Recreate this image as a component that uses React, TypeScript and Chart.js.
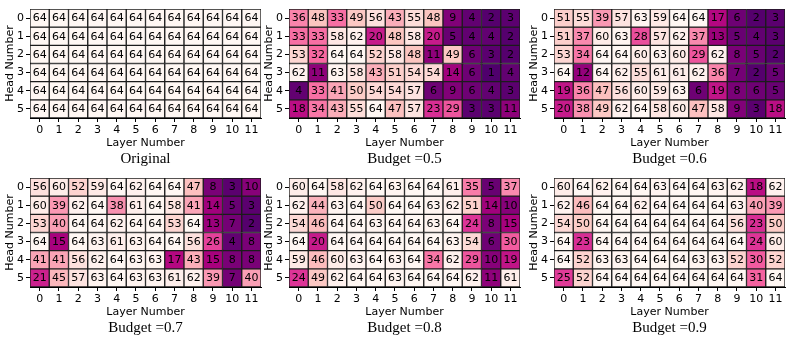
import React, { useEffect, useRef } from 'react';
import { Chart, registerables } from 'chart.js';
Chart.register(...registerables);

const layers = ['0', '1', '2', '3', '4', '5', '6', '7', '8', '9', '10', '11'];
const heads = [0, 1, 2, 3, 4, 5];
const headTickLabels = ['0', '1', '2', '3', '4', '5'];

const original = [
  [64, 64, 64, 64, 64, 64, 64, 64, 64, 64, 64, 64],
  [64, 64, 64, 64, 64, 64, 64, 64, 64, 64, 64, 64],
  [64, 64, 64, 64, 64, 64, 64, 64, 64, 64, 64, 64],
  [64, 64, 64, 64, 64, 64, 64, 64, 64, 64, 64, 64],
  [64, 64, 64, 64, 64, 64, 64, 64, 64, 64, 64, 64],
  [64, 64, 64, 64, 64, 64, 64, 64, 64, 64, 64, 64],
];
const budget05 = [
  [36, 48, 33, 49, 56, 43, 55, 48, 9, 4, 2, 3],
  [33, 33, 58, 62, 20, 48, 58, 20, 5, 4, 4, 2],
  [53, 32, 64, 64, 52, 58, 48, 11, 49, 6, 3, 2],
  [62, 11, 63, 58, 43, 51, 54, 54, 14, 6, 1, 4],
  [4, 33, 41, 50, 54, 54, 57, 6, 9, 6, 4, 3],
  [18, 34, 43, 55, 64, 47, 57, 23, 29, 3, 3, 11],
];
const budget06 = [
  [51, 55, 39, 57, 63, 59, 64, 64, 17, 6, 2, 3],
  [51, 37, 60, 63, 28, 57, 62, 37, 13, 5, 4, 3],
  [53, 34, 64, 64, 60, 63, 60, 29, 62, 8, 5, 2],
  [64, 12, 64, 62, 55, 61, 61, 62, 36, 7, 2, 5],
  [19, 36, 47, 56, 60, 59, 63, 6, 19, 8, 6, 5],
  [20, 38, 49, 62, 64, 58, 60, 47, 58, 9, 3, 18],
];
const budget07 = [
  [56, 60, 52, 59, 64, 62, 64, 64, 47, 8, 3, 10],
  [60, 39, 62, 64, 38, 61, 64, 58, 41, 14, 5, 3],
  [53, 40, 64, 64, 62, 64, 64, 53, 64, 13, 7, 2],
  [64, 15, 64, 63, 61, 63, 64, 64, 56, 26, 4, 8],
  [41, 41, 56, 62, 64, 63, 63, 17, 43, 15, 8, 8],
  [21, 45, 57, 63, 64, 63, 63, 61, 62, 39, 7, 40],
];
const budget08 = [
  [60, 64, 58, 62, 64, 63, 64, 64, 61, 35, 5, 37],
  [62, 44, 63, 64, 50, 64, 64, 63, 62, 51, 14, 10],
  [54, 46, 64, 64, 63, 64, 64, 63, 64, 24, 8, 15],
  [64, 20, 64, 64, 64, 64, 64, 64, 63, 54, 6, 30],
  [59, 46, 60, 63, 64, 63, 64, 34, 62, 29, 10, 19],
  [24, 49, 62, 64, 64, 63, 64, 64, 64, 62, 11, 61],
];
const budget09 = [
  [60, 64, 62, 64, 64, 63, 64, 64, 63, 62, 18, 62],
  [62, 46, 64, 64, 62, 64, 64, 64, 64, 63, 40, 39],
  [54, 50, 64, 64, 64, 64, 64, 64, 64, 56, 23, 50],
  [64, 23, 64, 64, 64, 64, 64, 64, 64, 64, 24, 60],
  [64, 52, 63, 63, 64, 64, 64, 63, 63, 52, 30, 52],
  [25, 52, 64, 64, 64, 64, 64, 64, 64, 64, 31, 64],
];
const panelTitles = ['Original', 'Budget =0.5', 'Budget =0.6', 'Budget =0.7', 'Budget =0.8', 'Budget =0.9'];
const panelMatrices = [original, budget05, budget06, budget07, budget08, budget09];
const VMAX = 64;

const RDPU = ['#fff7f3', '#fde0dd', '#fcc5c0', '#fa9fb5', '#f768a1', '#dd3497', '#ae017e', '#7a0177', '#49006a'];
function hexToRgb(h: string) {
  return [parseInt(h.slice(1, 3), 16), parseInt(h.slice(3, 5), 16), parseInt(h.slice(5, 7), 16)];
}
function cmap(v: number) {
  const t = Math.min(1, Math.max(0, 1 - v / VMAX));
  const s = t * 8;
  const i = Math.min(7, Math.floor(s));
  const f = s - i;
  const a = hexToRgb(RDPU[i]);
  const b = hexToRgb(RDPU[i + 1]);
  const c = a.map((x, k) => Math.round(x + (b[k] - x) * f));
  return `rgb(${c[0]},${c[1]},${c[2]})`;
}

const cellText = {
  id: 'cellText',
  afterDatasetsDraw(chart: any, _args: any, opts: any) {
    const { ctx } = chart;
    const mat: number[][] = opts.matrix;
    ctx.save();
    ctx.font = '11px "DejaVu Sans"';
    ctx.fillStyle = '#000';
    ctx.textAlign = 'center';
    ctx.textBaseline = 'middle';
    chart.data.datasets.forEach((_ds: any, r: number) => {
      const meta = chart.getDatasetMeta(r);
      const y = chart.scales.y.getPixelForValue(heads[r] + 0.5);
      meta.data.forEach((el: any, i: number) => {
        ctx.fillText(String(mat[r][i]), el.x, y + 0.5);
      });
    });
    ctx.restore();
  },
};

const panelTitle = {
  id: 'panelTitle',
  afterDraw(chart: any, _args: any, opts: any) {
    const { ctx, chartArea } = chart;
    ctx.save();
    ctx.font = '15px "Liberation Serif"';
    ctx.fillStyle = '#000';
    ctx.textAlign = 'center';
    ctx.textBaseline = 'middle';
    ctx.fillText(opts.text, (chartArea.left + chartArea.right) / 2, chartArea.bottom + 41);
    ctx.restore();
  },
};

const GRID_W = 231;
const YAXIS_W = 28;
const PAD_R = 3;
const CANVAS_W = YAXIS_W + GRID_W + PAD_R;
const CANVAS_H = 170;
const gridLefts = [30, 289, 554];
const rowTops = [0, 169];

function Panel({ idx }: { idx: number }) {
  const ref = useRef<HTMLCanvasElement>(null);
  useEffect(() => {
    const mat = panelMatrices[idx];
    const tickFont = { family: 'DejaVu Sans', size: 11 };
    const axisGrid = {
      display: true,
      drawOnChartArea: false,
      drawTicks: true,
      tickLength: 4,
      tickColor: '#000',
      offset: false,
    };
    const chart = new Chart(ref.current!, {
      type: 'bar',
      data: {
        labels: layers,
        datasets: mat.map((row, r) => ({
          data: row.map(() => [heads[r], heads[r] + 1]),
          backgroundColor: row.map(cmap),
          borderColor: '#1c1c1c',
          borderWidth: 1,
          borderSkipped: false,
          grouped: false,
          barPercentage: 1,
          categoryPercentage: 1,
        })) as any,
      },
      options: {
        responsive: false,
        animation: false,
        devicePixelRatio: 1,
        layout: { padding: { top: 9, right: PAD_R, bottom: 20, left: 0 } },
        plugins: {
          legend: { display: false },
          tooltip: { enabled: false },
          title: { display: false },
          cellText: { matrix: mat },
          panelTitle: { text: panelTitles[idx] },
        } as any,
        scales: {
          x: {
            type: 'category',
            offset: true,
            grid: axisGrid,
            border: { display: true, color: '#000' },
            ticks: { color: '#000', font: tickFont, padding: 2, maxRotation: 0, autoSkip: false },
            title: { display: true, text: 'Layer Number', color: '#000', font: tickFont, padding: 0 },
            afterFit: (s: any) => { s.height = 32; },
          },
          y: {
            type: 'linear',
            min: 0,
            max: 6,
            reverse: true,
            afterBuildTicks: (s: any) => { s.ticks = heads.map((h) => ({ value: h + 0.5 })); },
            grid: axisGrid,
            border: { display: true, color: '#000' },
            ticks: {
              color: '#000',
              font: tickFont,
              padding: 2,
              callback: (v: any) => headTickLabels[Math.round(Number(v) - 0.5)],
            },
            title: { display: true, text: 'Head Number', color: '#000', font: tickFont, padding: { top: 2, bottom: 0 } },
            afterFit: (s: any) => { s.width = YAXIS_W; },
          },
        } as any,
      },
      plugins: [cellText, panelTitle],
    });
    return () => chart.destroy();
  }, [idx]);
  const col = idx % 3;
  const row = Math.floor(idx / 3);
  return (
    <div style={{ position: 'absolute', left: gridLefts[col] - YAXIS_W, top: rowTops[row], width: CANVAS_W, height: CANVAS_H }}>
      <canvas ref={ref} width={CANVAS_W} height={CANVAS_H} style={{ width: CANVAS_W, height: CANVAS_H, display: 'block' }} />
    </div>
  );
}

export default function App() {
  useEffect(() => {
    document.body.style.margin = '0';
  }, []);
  return (
    <div style={{ position: 'relative', width: 791, height: 349, background: '#fff', overflow: 'hidden' }}>
      {panelTitles.map((_t, i) => (
        <Panel key={i} idx={i} />
      ))}
    </div>
  );
}
